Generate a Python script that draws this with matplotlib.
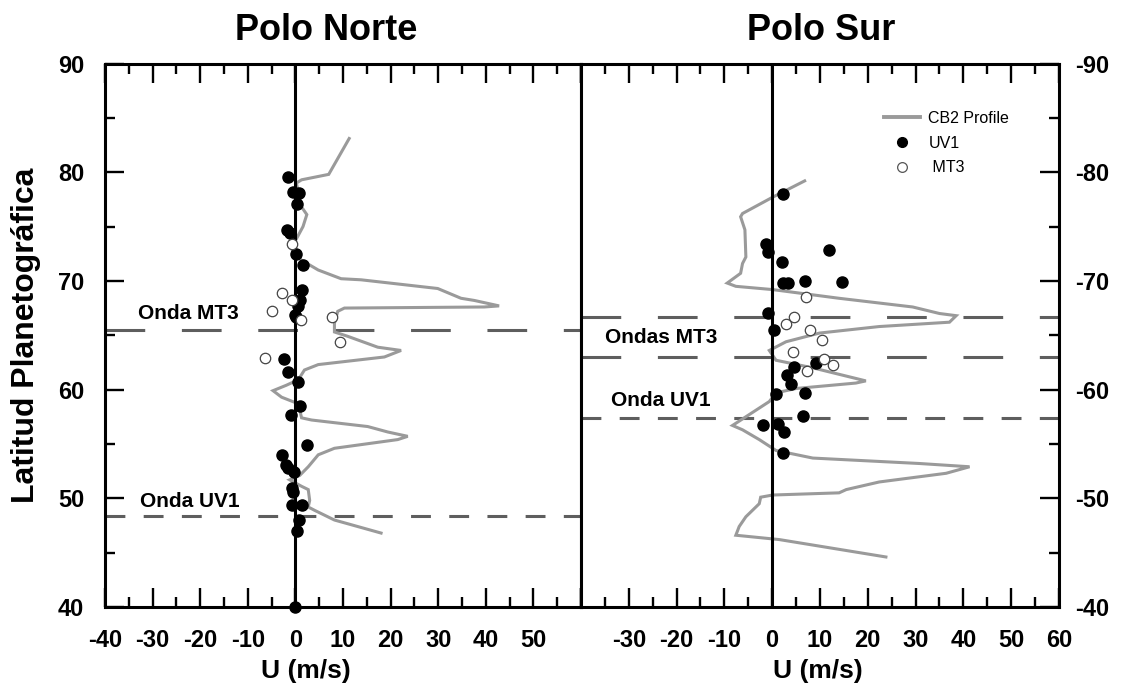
import matplotlib
matplotlib.use("Agg")
import matplotlib.pyplot as plt
from matplotlib.lines import Line2D

plt.rcParams['font.family'] = ['Liberation Sans', 'DejaVu Sans']

# ---------------- data ----------------
north_profile_u = [11.3, 7.0, 1.3, 0.2, 1.3, 2.4, 1.6, 0.5, -0.8, -0.5, 1.3, 4.8, 9.6, 13.8,
                   29.9, 34.8, 37.6, 42.8, 39.7, 10.3, 8.9, 8.2, 8.2, 11.0, 17.3, 22.2, 18.7,
                   4.8, 1.9, 0.6, -1.9, -4.7, -2.9, 0.6, 1.3, 3.4, 15.2, 19.4, 23.6, 21.5,
                   8.2, 4.8, 2.7, 0.9, -1.2, 1.3, 2.7, 3.0, 2.7, 4.0, 8.2, 18.0]
north_profile_lat = [83.1, 79.8, 79.3, 79.0, 76.8, 76.1, 75.0, 74.1, 73.1, 72.5, 71.9, 71.0, 70.2, 70.1,
                     69.3, 68.4, 68.2, 67.7, 67.6, 67.5, 67.2, 66.1, 65.3, 64.9, 63.9, 63.6, 63.0,
                     62.3, 61.8, 60.9, 60.4, 59.9, 59.3, 58.7, 57.4, 57.2, 56.6, 56.1, 55.7, 55.4,
                     54.6, 54.0, 52.9, 52.1, 51.7, 51.1, 50.8, 49.8, 49.2, 48.9, 48.0, 46.8]

north_uv1_u = [-1.5, -0.5, 0.8, 0.4, -1.7, -1.2, 0.1, 1.5, 1.3, 0.9, 0.6, 0.1, 0.0,
               -2.4, -1.5, 0.6, 0.9, -1.0, 2.5, -2.9, -1.9, -1.5, -0.3, -0.8, -0.5,
               -0.8, 1.3, 0.7, 0.4, 0.0]
north_uv1_lat = [79.6, 78.2, 78.1, 77.1, 74.7, 74.4, 72.5, 71.5, 69.2, 68.2, 67.7, 66.7, 66.9,
                 62.8, 61.6, 60.7, 58.5, 57.7, 54.9, 54.0, 53.1, 52.8, 52.4, 50.9, 50.6,
                 49.4, 49.4, 48.0, 47.0, 40.0]

north_mt3_u = [-0.7, -2.9, -0.8, -4.9, 1.1, 7.7, 9.4, -6.4]
north_mt3_lat = [73.4, 68.9, 68.2, 67.2, 66.4, 66.7, 64.4, 62.9]

south_profile_u = [6.8, 0.1, -6.2, -6.6, -5.7, -5.5, -6.2, -6.6, -9.4, -7.6, 0.1, 14.0, 29.4,
                   35.0, 38.5, 37.1, 22.4, 9.9, 2.9, -0.6, 0.8, 8.5, 19.6, 17.5, 5.0, 0.8,
                   -0.6, -3.4, -8.3, -6.2, -2.7, 0.8, 8.5, 30.8, 41.3, 36.4, 22.4, 15.5,
                   14.0, 0.1, -2.4, -2.7, -4.1, -5.5, -6.9, -7.6, 1.5, 23.8]
south_profile_lat = [-79.2, -77.7, -76.2, -75.9, -74.7, -72.2, -71.6, -70.7, -69.8, -69.5, -69.2, -68.4, -67.6,
                     -67.0, -66.8, -66.2, -65.8, -65.2, -64.4, -63.6, -62.7, -62.0, -60.8, -60.6, -60.1, -59.7,
                     -58.9, -58.1, -56.7, -56.3, -55.4, -54.4, -53.7, -53.2, -52.9, -52.3, -51.5, -50.8,
                     -50.5, -50.3, -50.1, -49.5, -48.9, -48.3, -47.4, -46.6, -46.2, -44.6]

south_uv1_u = [2.2, -1.3, -0.8, 11.8, 2.0, 2.3, 3.4, 6.9, 14.6, -0.8, 0.4,
               4.6, 3.2, 3.9, 9.2, 0.8, 6.9, 6.5, -2.0, 1.3, 2.5, 2.3]
south_uv1_lat = [-78.0, -73.4, -72.7, -72.8, -71.7, -69.8, -69.8, -70.0, -69.9, -67.0, -65.5,
                 -62.1, -61.3, -60.5, -62.4, -59.6, -59.7, -57.6, -56.7, -56.8, -56.1, -54.2]

south_mt3_u = [7.1, 4.6, 3.0, 7.9, 10.4, 4.3, 10.9, 12.8, 7.2]
south_mt3_lat = [-68.5, -66.7, -66.0, -65.5, -64.6, -63.5, -62.8, -62.3, -61.7]

north_mt3_wave = 65.5
north_uv1_wave = 48.4
south_mt3_waves = [-66.7, -63.0]
south_uv1_wave = -57.4

north_xticks = [-40, -30, -20, -10, 0, 10, 20, 30, 40, 50, 60]
north_xlabels = ['-40', '-30', '-20', '-10', '0', '10', '20', '30', '40', '50', '']
south_xticks = [-40, -30, -20, -10, 0, 10, 20, 30, 40, 50, 60]
south_xlabels = ['', '-30', '-20', '-10', '0', '10', '20', '30', '40', '50', '60']
north_yticks = [40, 50, 60, 70, 80, 90]
south_yticks = [-40, -50, -60, -70, -80, -90]

# ---------------- figure ----------------
fig = plt.figure(figsize=(11.22, 6.91), dpi=100)
ax1 = fig.add_axes([0.0936, 0.1216, 0.4242, 0.7865])
ax2 = fig.add_axes([0.5178, 0.1216, 0.4260, 0.7865])

prof_color = '#9a9a9a'
dash_color = '#5e5e5e'
lw_dash = 2.2
long_dash = (0, (13.0, 12.0))
short_dash = (0, (6.5, 6.0))

tick_font = dict(fontsize=17, fontweight='bold')

for ax in (ax1, ax2):
    ax.set_xlim(-40, 60)
    ax.set_xticks(range(-35, 60, 10), minor=True)
    for sp in ax.spines.values():
        sp.set_linewidth(2.2)
    ax.axvline(0, color='black', lw=2.2, zorder=3)
    ax.tick_params(which='major', direction='in', length=14, width=1.7, pad=16)
    ax.tick_params(which='minor', direction='in', length=7.5, width=1.7)

# ----- North -----
ax1.set_ylim(40, 90)
ax1.set_xticks(north_xticks)
ax1.set_xticklabels(north_xlabels, **tick_font)
ax1.set_yticks(north_yticks)
ax1.set_yticklabels([str(v) for v in north_yticks], **tick_font)
ax1.set_yticks(range(45, 90, 10), minor=True)
ax1.tick_params(which='both', top=True, bottom=True, left=True, right=False,
                labeltop=False, labelright=False)
ax1.tick_params(axis='y', which='major', pad=15)

ax1.plot(north_profile_u, north_profile_lat, color=prof_color, lw=2.2, zorder=2,
         solid_joinstyle='miter')
ax1.axhline(north_mt3_wave, color=dash_color, lw=lw_dash, ls=long_dash, zorder=1)
ax1.axhline(north_uv1_wave, color=dash_color, lw=lw_dash, ls=short_dash, zorder=1)
ax1.plot(north_uv1_u, north_uv1_lat, 'o', color='black', ms=8, zorder=4, clip_on=False)
ax1.plot(north_mt3_u, north_mt3_lat, 'o', mfc='white', mec='#444444', mew=0.9, ms=7.5, zorder=4)

ax1.text(-33.0, 67.0, 'Onda MT3', fontsize=15, fontweight='bold', va='center', ha='left')
ax1.text(-32.6, 49.7, 'Onda UV1', fontsize=15, fontweight='bold', va='center', ha='left')
ax1.set_ylabel('Latitud Planetográfica', fontsize=23, fontweight='bold', labelpad=12)
ax1.set_xlabel('U (m/s)', fontsize=19, fontweight='bold', labelpad=8)
ax1.xaxis.set_label_coords(0.422, -0.095)

# ----- South -----
ax2.set_ylim(-40, -90)
ax2.set_xticks(south_xticks)
ax2.set_xticklabels(south_xlabels, **tick_font)
ax2.set_yticks(south_yticks)
ax2.set_yticklabels([str(v) for v in south_yticks], **tick_font)
ax2.set_yticks(range(-45, -90, -10), minor=True)
ax2.tick_params(which='both', top=True, bottom=True, left=False, right=True,
                labeltop=False, labelleft=False, labelright=True)
ax2.tick_params(axis='y', which='major', pad=12)

ax2.plot(south_profile_u, south_profile_lat, color=prof_color, lw=2.2, zorder=2,
         solid_joinstyle='miter')
for w in south_mt3_waves:
    ax2.axhline(w, color=dash_color, lw=lw_dash, ls=long_dash, zorder=1)
ax2.axhline(south_uv1_wave, color=dash_color, lw=lw_dash, ls=short_dash, zorder=1)
ax2.plot(south_uv1_u, south_uv1_lat, 'o', color='black', ms=8, zorder=4)
ax2.plot(south_mt3_u, south_mt3_lat, 'o', mfc='white', mec='#444444', mew=0.9, ms=7.5, zorder=4)

ax2.text(-35.0, -64.8, 'Ondas MT3', fontsize=15, fontweight='bold', va='center', ha='left')
ax2.text(-33.8, -59.0, 'Onda UV1', fontsize=15, fontweight='bold', va='center', ha='left')
ax2.set_xlabel('U (m/s)', fontsize=19, fontweight='bold', labelpad=8)
ax2.xaxis.set_label_coords(0.496, -0.095)

handles = [Line2D([], [], color=prof_color, lw=2.8),
           Line2D([], [], ls='none', marker='o', color='black', ms=7),
           Line2D([], [], ls='none', marker='o', mfc='white', mec='#555555', mew=0.9, ms=7)]
ax2.legend(handles, ['CB2 Profile', 'UV1', ' MT3'], loc='upper left',
           bbox_to_anchor=(0.62, 0.925), frameon=False, fontsize=11.5,
           handlelength=2.3, handletextpad=0.5, labelspacing=0.62, borderaxespad=0)

fig.text(326 / 1122, 1 - 30 / 691, 'Polo Norte', fontsize=26, fontweight='bold',
         ha='center', va='center')
fig.text(821 / 1122, 1 - 30 / 691, 'Polo Sur', fontsize=26, fontweight='bold',
         ha='center', va='center')

fig.savefig('out.png', dpi=100)
